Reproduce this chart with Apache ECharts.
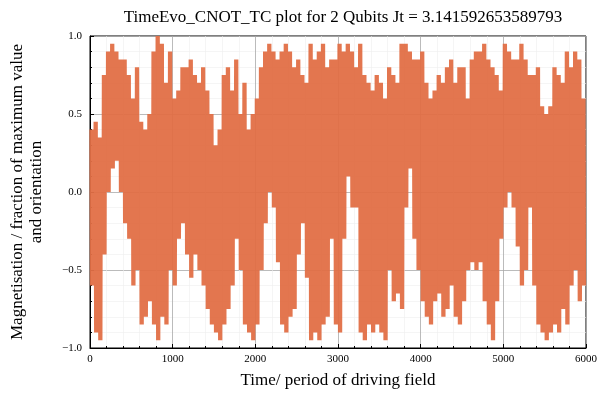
<!DOCTYPE html>
<html>
<head>
<meta charset="utf-8">
<script src="https://cdn.jsdelivr.net/npm/echarts@6/dist/echarts.min.js"></script>
<style>
  html, body { margin: 0; padding: 0; background: #fff; }
  #chart { width: 600px; height: 400px; }
</style>
</head>
<body>
<div id="chart"></div>
<script>
// envelope of the trace, one entry per 50 time units (upper / lower swing)
var bucketWidth = 50
var swingsPerBucket = 4
var hiValues = [
  0.4, 0.45, 0.35, 0.75, 0.9, 0.95, 0.9, 0.85, 0.85, 0.75,
  0.6, 0.8, 0.45, 0.4, 0.5, 0.9, 1.0, 0.95, 0.7, 0.9,
  0.6, 0.65, 0.8, 0.8, 0.85, 0.75, 0.7, 0.8, 0.65, 0.5,
  0.3, 0.4, 0.75, 0.8, 0.65, 0.85, 0.5, 0.7, 0.4, 0.5,
  0.6, 0.8, 0.9, 0.95, 0.9, 0.85, 0.9, 0.95, 0.9, 0.8,
  0.85, 0.75, 0.7, 0.95, 0.85, 0.9, 0.95, 0.8, 0.85, 0.85,
  0.95, 0.9, 0.95, 0.9, 0.8, 0.95, 0.75, 0.7, 0.65, 0.75,
  0.7, 0.6, 0.8, 0.75, 0.7, 0.95, 0.95, 0.9, 0.85, 0.85,
  0.9, 0.7, 0.6, 0.65, 0.75, 0.7, 0.8, 0.85, 0.7, 0.8,
  0.8, 0.6, 0.85, 0.9, 0.9, 0.95, 0.85, 0.8, 0.75, 0.65,
  0.95, 0.9, 0.85, 0.85, 0.95, 0.85, 0.75, 0.75, 0.8, 0.55,
  0.5, 0.55, 0.8, 0.75, 0.7, 0.9, 0.8, 0.9, 0.85, 0.6
]
var loValues = [
  -0.6, -0.9, -0.95, -0.4, 0.0, 0.15, 0.2, 0.0, -0.2, -0.3,
  -0.6, -0.5, -0.85, -0.8, -0.7, -0.85, -0.95, -0.8, -0.85, -0.5,
  -0.6, -0.3, -0.2, -0.4, -0.55, -0.4, -0.5, -0.6, -0.75, -0.85,
  -0.9, -0.95, -0.85, -0.75, -0.6, -0.3, -0.5, -0.85, -0.9, -0.95,
  -0.85, -0.5, -0.2, 0.0, -0.1, -0.45, -0.85, -0.9, -0.8, -0.75,
  -0.4, -0.2, -0.55, -0.95, -0.9, -0.95, -0.85, -0.8, -0.3, -0.85,
  -0.9, -0.3, 0.1, -0.1, -0.1, -0.9, -0.95, -0.85, -0.9, -0.85,
  -0.9, -0.95, -0.5, -0.7, -0.65, -0.75, -0.1, 0.15, -0.3, -0.5,
  -0.7, -0.8, -0.85, -0.7, -0.65, -0.8, -0.75, -0.6, -0.8, -0.85,
  -0.7, -0.5, -0.45, -0.5, -0.45, -0.7, -0.85, -0.95, -0.7, -0.3,
  -0.1, 0.0, -0.1, -0.35, -0.6, -0.5, -0.1, -0.6, -0.85, -0.9,
  -0.95, -0.9, -0.85, -0.9, -0.75, -0.85, -0.6, -0.5, -0.7, -0.6
]

var points = []
var step = bucketWidth / (swingsPerBucket * 2)
hiValues.forEach(function (hi, i) {
  for (var k = 0; k < swingsPerBucket; k++) {
    points.push([i * bucketWidth + (2 * k) * step, hi])
    points.push([i * bucketWidth + (2 * k + 1) * step, loValues[i]])
  }
})

var serif = 'Liberation Serif'
var myChart = echarts.init(document.getElementById('chart'))
myChart.setOption({
  animation: false,
  title: {
    text: 'TimeEvo_CNOT_TC plot for 2 Qubits Jt = 3.141592653589793',
    left: 338, top: 4, textAlign: 'center',
    textStyle: { fontFamily: serif, fontSize: 17, fontWeight: 'normal', color: '#000' }
  },
  grid: { left: 87, right: 12, top: 36, bottom: 52, show: true, borderColor: '#000', borderWidth: 1 },
  xAxis: {
    type: 'value', min: 0, max: 6000, interval: 1000,
    name: 'Time/ period of driving field', nameLocation: 'middle', nameGap: 24,
    nameTextStyle: { fontFamily: serif, fontSize: 17, color: '#000' },
    axisLine: { onZero: false, lineStyle: { color: '#000' } },
    axisTick: { inside: true, length: 4, lineStyle: { color: '#000' } },
    minorTick: { show: true, splitNumber: 5, length: 2 },
    axisLabel: { fontFamily: serif, fontSize: 11, color: '#000', margin: 6,
      formatter: function (v) { return String(v) } },
    splitLine: { lineStyle: { color: '#aaa', width: 0.8 } },
    minorSplitLine: { show: true, lineStyle: { color: '#eee', width: 0.6 } }
  },
  yAxis: {
    type: 'value', min: -1, max: 1, interval: 0.5,
    name: 'Magnetisation / fraction of maximum value\nand orientation',
    nameLocation: 'middle', nameGap: 44, nameRotate: 90,
    nameTextStyle: { fontFamily: serif, fontSize: 17, color: '#000', lineHeight: 19 },
    axisLine: { lineStyle: { color: '#000' } },
    axisTick: { inside: true, length: 4, lineStyle: { color: '#000' } },
    minorTick: { show: true, splitNumber: 5, length: 2 },
    axisLabel: {
      fontFamily: serif, fontSize: 11, color: '#000', margin: 8,
      formatter: function (v) { return v.toFixed(1).replace('-', '\u2212') }
    },
    splitLine: { lineStyle: { color: '#aaa', width: 0.8 } },
    minorSplitLine: { show: true, lineStyle: { color: '#eee', width: 0.6 } }
  },
  series: [{
    type: 'line', data: points, showSymbol: false, sampling: 'none',
    lineStyle: { color: '#e26f46', width: 1.2, opacity: 0.95 }
  }]
})
</script>
</body>
</html>
